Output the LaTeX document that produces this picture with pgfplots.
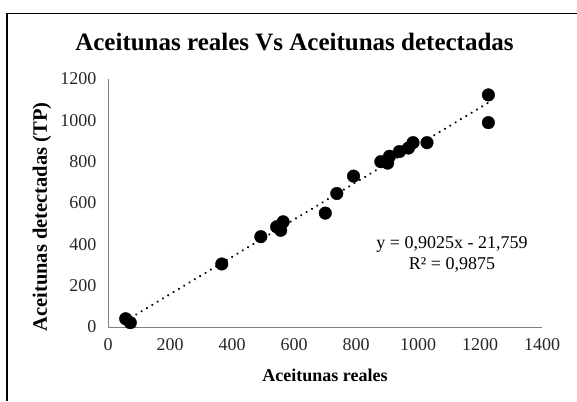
\documentclass[border=0pt]{standalone}
\usepackage{fontspec}
\setmainfont{Liberation Serif}
\usepackage{pgfplots}
\pgfplotsset{compat=1.18}
\begin{document}
\begin{tikzpicture}[x=1bp,y=1bp]
\useasboundingbox (0,0) rectangle (577,401);
\draw[line width=1.3bp] (7,0) -- (7,387.5) -- (577,387.5);
\node[font=\fontsize{25bp}{30bp}\selectfont\bfseries, anchor=base, inner sep=0pt] at (294.5,351) {Aceitunas reales Vs Aceitunas detectadas};
\begin{axis}[
  at={(108bp,74bp)}, anchor=south west,
  scale only axis, width=434bp, height=248bp,
  xmin=0, xmax=1400, ymin=0, ymax=1200,
  xtick distance=200, ytick distance=200,
  axis x line*=bottom, axis y line*=left,
  axis line style={-, draw=black!50, line width=1bp},
  major tick length=0pt,
  /pgf/number format/assume math mode=true,
  /pgf/number format/1000 sep={},
  tick label style={font=\fontsize{18bp}{21bp}\selectfont, text=black!85},
  xticklabel style={yshift=-8bp},
  yticklabel style={xshift=-8bp},
  clip=false,
]
\addplot[black, line width=2.4bp, line cap=round, dash pattern=on 0.01bp off 6.2bp] coordinates {(57,29.7) (1227,1085.6)};
\addplot[only marks, mark=*, mark size=6.3bp, mark options={fill=black, draw=black}] coordinates {
(57,40) (72,21) (367,305) (493,437) (544,485) (557,468) (565,509) (701,551)
(738,646) (792,730) (880,800) (902,793) (908,826) (940,849) (969,866) (984,892)
(1029,892) (1227,1123) (1227,989)
};
\end{axis}
\node[font=\fontsize{18bp}{21bp}\selectfont, align=center, anchor=center] at (452,147) {y = 0,9025x - 21,759\\R² = 0,9875};
\node[font=\fontsize{18bp}{21bp}\selectfont\bfseries, anchor=center] at (325,26) {Aceitunas reales};
\node[font=\fontsize{20.5bp}{24bp}\selectfont\bfseries, anchor=center, rotate=90] at (42,184) {Aceitunas detectadas (TP)};
\end{tikzpicture}
\end{document}
